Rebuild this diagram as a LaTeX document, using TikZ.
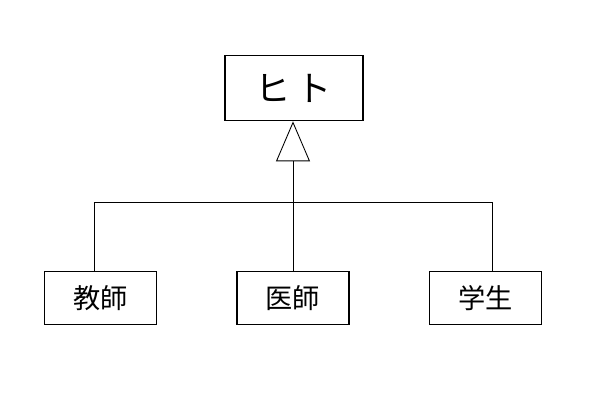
\documentclass[tikz,border=0pt]{standalone}
\usepackage{fontspec}
\setmainfont{Noto Sans CJK JP}
\usetikzlibrary{arrows.meta}

\begin{document}
\begin{tikzpicture}[x=0.02cm, y=-0.02cm,
    cls/.style={draw, line width=1pt, inner sep=0pt,
      minimum width=2.24cm, minimum height=1.06cm,
      font=\fontsize{15.5}{15.5}\selectfont},
    link/.style={line width=0.5pt},
    inherit/.style={link, -{Triangle[open, length=0.8cm, width=0.68cm]}}]
  \useasboundingbox (0,0) rectangle (600,400);
  % superclass
  \node[cls, minimum width=2.76cm, minimum height=1.3cm,
    font=\fontsize{20}{20}\selectfont] (human) at (294,88) {ヒ\hspace{0.12cm}ト};
  % subclasses
  \node[cls] (teacher) at (100.5,298) {教師};
  \node[cls] (doctor) at (293,298) {医師};
  \node[cls] (student) at (485.5,298) {学生};
  \coordinate (busl) at (94,202);
  \coordinate (busm) at (293,202);
  \coordinate (busr) at (492,202);
  \draw[inherit] (busm) -- (busm |- human.south);
  \draw[link] (busl) -- (busr);
  \foreach \c/\n in {busl/teacher, busm/doctor, busr/student}{
    \draw[link] (\c) -- (\c |- \n.north);
  }
\end{tikzpicture}
\end{document}
